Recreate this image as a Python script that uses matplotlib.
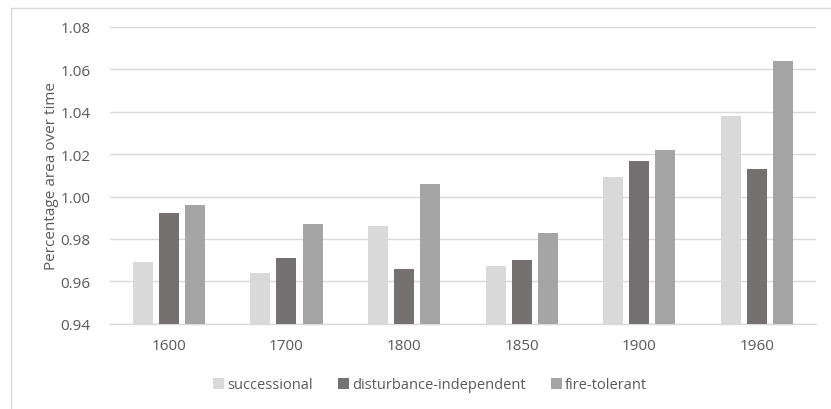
import matplotlib
matplotlib.use('Agg')
import matplotlib.pyplot as plt
from matplotlib.patches import Rectangle
import numpy as np

plt.rcParams.update({'font.family': ['Open Sans', 'DejaVu Sans']})

years = ['1600', '1700', '1800', '1850', '1900', '1960']
successional = [0.969, 0.964, 0.986, 0.967, 1.009, 1.038]
disturbance_independent = [0.992, 0.971, 0.966, 0.970, 1.017, 1.013]
fire_tolerant = [0.996, 0.987, 1.006, 0.983, 1.022, 1.064]

series = [
    ('successional', successional, '#d9d9d9'),
    ('disturbance-independent', disturbance_independent, '#767171'),
    ('fire-tolerant', fire_tolerant, '#a5a5a5'),
]

text_col = '#595959'
grid_col = '#d9d9d9'

fig = plt.figure(figsize=(8.31, 4.10), dpi=100)
ax = fig.add_axes([110 / 831, 1 - 324.7 / 410, 705.7 / 831, 296.7 / 410])

x = np.arange(len(years))
width = 0.17
step = 0.222
handles = []
for i, (name, vals, col) in enumerate(series):
    h = ax.bar(x + (i - 1) * step, np.array(vals) - 0.94, width, bottom=0.94,
               color=col, label=name, zorder=3)
    handles.append(h)

ax.set_xlim(-0.5, len(years) - 0.5)
ax.set_ylim(0.94, 1.08)
ax.set_yticks(np.arange(0.94, 1.081, 0.02))
ax.set_yticklabels([f'{v:.2f}' for v in np.arange(0.94, 1.081, 0.02)])
ax.set_xticks(x)
ax.set_xticklabels(years)
ax.grid(axis='y', color=grid_col, linewidth=1.0, zorder=0)
for s in ['top', 'right', 'left']:
    ax.spines[s].set_visible(False)
ax.spines['bottom'].set_color(grid_col)
ax.spines['bottom'].set_linewidth(1.0)
ax.tick_params(axis='both', length=0, colors=text_col, labelsize=11)
ax.tick_params(axis='y', pad=14)
ax.tick_params(axis='x', pad=10)
ax.set_ylabel('Percentage area over time', color=text_col, fontsize=11, labelpad=1)

leg = fig.legend(handles=handles, loc='center', bbox_to_anchor=(430 / 831, 1 - 386 / 410),
                 ncol=3, frameon=False, fontsize=10.5, handlelength=0.75,
                 handleheight=0.75, handletextpad=0.25, columnspacing=1.7)
for t in leg.get_texts():
    t.set_color(text_col)

# light frame around the chart area
fig.patches.append(Rectangle((11 / 831, -0.1), 1.2, 1 - 9 / 410 + 0.1,
                             transform=fig.transFigure, fill=False,
                             edgecolor='#d9d9d9', linewidth=1.0))

fig.savefig('out.png', dpi=100)
